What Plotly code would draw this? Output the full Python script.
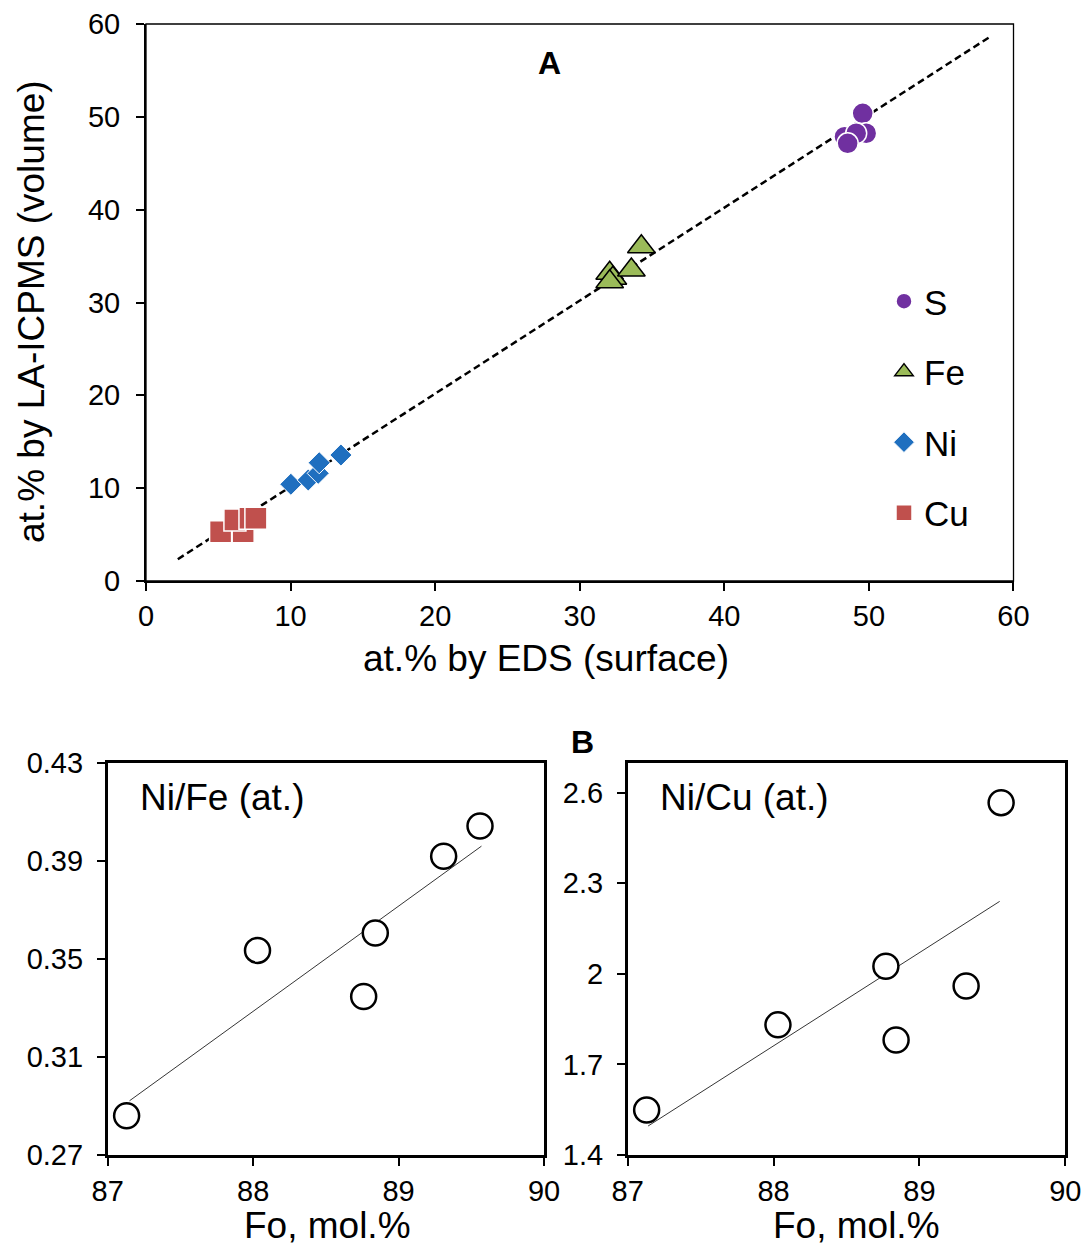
import plotly.graph_objects as go

# ---- Panel A data (at.%): EDS surface (x) vs LA-ICPMS volume (y)
s_x = [49.57, 48.31, 49.81, 49.12, 48.53]
s_y = [50.38, 47.86, 48.23, 48.23, 47.15]
fe_x = [32.07, 32.29, 32.07, 33.57, 34.26]
fe_y = [33.15, 32.61, 32.24, 33.50, 36.01]
ni_x = [10.02, 11.22, 11.91, 11.98, 13.48]
ni_y = [10.42, 10.88, 11.60, 12.74, 13.57]
cu_x = [6.72, 5.16, 6.15, 7.19, 7.60]
cu_y = [5.31, 5.31, 6.57, 6.75, 6.75]
fitA_x = [2.2, 58.45]
fitA_y = [2.35, 58.7]

# ---- Panel B data
fo = [87.13, 88.03, 88.76, 88.84, 89.31, 89.56]
ni_fe = [0.286, 0.3534, 0.3346, 0.3605, 0.3918, 0.4041]
fo_cu = [87.13, 88.03, 88.77, 88.84, 89.32, 89.56]
ni_cu = [1.549, 1.831, 2.025, 1.781, 1.960, 2.567]
fitFe_x = [87.15, 89.57]
fitFe_y = [0.2921, 0.3959]
fitCu_x = [87.14, 89.55]
fitCu_y = [1.496, 2.240]

ticksA = [0, 10, 20, 30, 40, 50, 60]
ticksFo = [87, 88, 89, 90]
ticksNiFe = [0.27, 0.31, 0.35, 0.39, 0.43]
labelsNiFe = ["0.27", "0.31", "0.35", "0.39", "0.43"]
ticksNiCu = [1.4, 1.7, 2.0, 2.3, 2.6]
labelsNiCu = ["1.4", "1.7", "2", "2.3", "2.6"]

FONT = "Liberation Sans, Arial, sans-serif"
fig = go.Figure()

fig.add_trace(go.Scatter(x=fitA_x, y=fitA_y, mode="lines", showlegend=False,
                         line=dict(color="black", width=2.5, dash="7px,4px"),
                         xaxis="x", yaxis="y"))
fig.add_trace(go.Scatter(x=s_x, y=s_y, mode="markers", name="S", legendgroup="S",
                         marker=dict(symbol="circle", size=21, color="#7030A0",
                                     line=dict(color="white", width=1.5)),
                         xaxis="x", yaxis="y"))
fig.add_trace(go.Scatter(x=fe_x, y=fe_y, mode="markers", name="Fe", legendgroup="Fe",
                         marker=dict(symbol="triangle-up", size=24, color="#9BBB59",
                                     line=dict(color="black", width=1.5)),
                         xaxis="x", yaxis="y"))
fig.add_trace(go.Scatter(x=ni_x, y=ni_y, mode="markers", name="Ni", legendgroup="Ni",
                         marker=dict(symbol="diamond", size=17, color="#1F6FBF",
                                     line=dict(color="white", width=1)),
                         xaxis="x", yaxis="y"))
fig.add_trace(go.Scatter(x=cu_x, y=cu_y, mode="markers", name="Cu", legendgroup="Cu",
                         marker=dict(symbol="square", size=22, color="#C0504D",
                                     line=dict(color="white", width=1.5)),
                         xaxis="x", yaxis="y"))

# Panel B left
fig.add_trace(go.Scatter(x=fitFe_x, y=fitFe_y, mode="lines", showlegend=False,
                         line=dict(color="black", width=0.8), xaxis="x2", yaxis="y2"))
fig.add_trace(go.Scatter(x=fo, y=ni_fe, mode="markers", showlegend=False,
                         marker=dict(symbol="circle", size=25, color="white",
                                     line=dict(color="black", width=2.5)),
                         xaxis="x2", yaxis="y2"))
# Panel B right
fig.add_trace(go.Scatter(x=fitCu_x, y=fitCu_y, mode="lines", showlegend=False,
                         line=dict(color="black", width=0.8), xaxis="x3", yaxis="y3"))
fig.add_trace(go.Scatter(x=fo_cu, y=ni_cu, mode="markers", showlegend=False,
                         marker=dict(symbol="circle", size=25, color="white",
                                     line=dict(color="black", width=2.5)),
                         xaxis="x3", yaxis="y3"))

tickfont = dict(family=FONT, size=29, color="black")
titlefont = dict(family=FONT, size=37, color="black")

def ax(**kw):
    d = dict(showgrid=False, zeroline=False, showline=True, linecolor="black",
             ticks="outside", ticklen=8, tickwidth=2, tickcolor="black",
             tickfont=tickfont, automargin=False)
    d.update(kw)
    return d

W, H = 1083, 1247

def ann(text, x, y, font, **kw):
    d = dict(text=text, x=x, y=y, xref="paper", yref="paper", xanchor="center",
             yanchor="middle", showarrow=False, font=font)
    d.update(kw)
    return d

fig.update_layout(
    width=W, height=H,
    margin=dict(l=0, r=0, t=0, b=0, pad=0, autoexpand=False),
    paper_bgcolor="white", plot_bgcolor="white",
    font=dict(family=FONT, color="black"),
    xaxis=ax(domain=[0.13481, 0.93583], range=[0, 60], tickvals=ticksA, linewidth=2,
             anchor="y"),
    yaxis=ax(domain=[0.53408, 0.98075], range=[0, 60], tickvals=ticksA, linewidth=2,
             ticklabelstandoff=10, anchor="x"),
    xaxis2=ax(domain=[0.09945, 0.50231], range=[87, 90], tickvals=ticksFo, linewidth=2.5,
              mirror=True, anchor="y2", ticklabelstandoff=0),
    yaxis2=ax(domain=[0.07378, 0.38853], range=[0.27, 0.43], tickvals=ticksNiFe,
              ticktext=labelsNiFe, linewidth=2.5, mirror=True, anchor="x2",
              ticklabelstandoff=8),
    xaxis3=ax(domain=[0.57959, 0.98366], range=[87, 90], tickvals=ticksFo, linewidth=2.5,
              mirror=True, anchor="y3", ticklabelstandoff=0),
    yaxis3=ax(domain=[0.07378, 0.38853], range=[1.4, 2.7], tickvals=ticksNiCu,
              ticktext=labelsNiCu, linewidth=2.5, mirror=True, anchor="x3",
              ticklabelstandoff=8),
    legend=dict(x=0.81625, y=0.78196, xanchor="left", yanchor="top",
                font=dict(family=FONT, size=35, color="black"),
                bgcolor="rgba(0,0,0,0)", tracegroupgap=22, itemwidth=30),
    shapes=[dict(type="rect", xref="x domain", yref="y domain", x0=0, x1=1, y0=0, y1=1,
                 line=dict(color="black", width=1.3), layer="above")],
    annotations=[
        ann("at.% by EDS (surface)", 0.50416, 0.47233, titlefont),
        ann("at.% by LA-ICPMS (volume)", 0.02955, 0.74980, titlefont, textangle=-90),
        ann("Fo, mol.%", 0.30194, 0.01764, titlefont),
        ann("Fo, mol.%", 0.79040, 0.01764, titlefont),
        ann("<b>A</b>", 0.50693, 0.94948, dict(family=FONT, size=32, color="black")),
        ann("<b>B</b>", 0.53740, 0.40497, dict(family=FONT, size=32, color="black")),
        ann("Ni/Fe (at.)", 0.20499, 0.36007, titlefont),
        ann("Ni/Cu (at.)", 0.68790, 0.36007, titlefont),
    ],
)

fig.write_html(
    "out.html",
    config={"displayModeBar": False},
    post_script="document.body.style.margin='0';document.body.style.overflow='hidden';",
)
